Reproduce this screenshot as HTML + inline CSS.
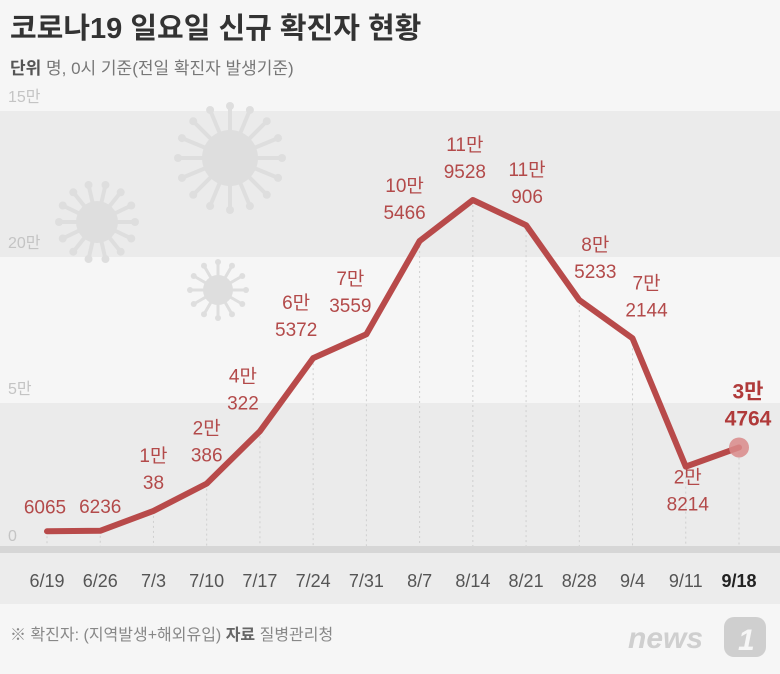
<!DOCTYPE html>
<html><head><meta charset="utf-8"><style>
body{margin:0;background:#f6f6f6;}
svg text{font-family:"Liberation Sans","Noto Sans CJK KR",sans-serif;}
</style></head><body>
<svg width="780" height="669" viewBox="0 0 780 669">
<rect x="0" y="0" width="780" height="669" fill="#f6f6f6"/>
<text x="10" y="38" font-size="29" font-weight="bold" fill="#333">코로나19 일요일 신규 확진자 현황</text>
<text x="10" y="74" font-size="17" fill="#777"><tspan font-weight="bold" fill="#555">단위</tspan> 명, 0시 기준(전일 확진자 발생기준)</text>
<g id="bands"></g>
<g id="viruses" fill="#dedede" stroke="#dedede"></g>
<g id="grid"></g>
<rect x="0" y="546" width="780" height="7" fill="#d6d6d6"/>
<rect x="0" y="553" width="780" height="51" fill="#ececec"/>
<g id="plot"></g>
<text x="10" y="640" font-size="16" fill="#888">※ 확진자: (지역발생+해외유입) <tspan font-weight="bold" fill="#666">자료</tspan> 질병관리청</text>
<text x="628" y="648" font-size="30" font-weight="bold" font-style="italic" fill="#cfcfcf">news</text>
<rect x="724" y="617" width="42" height="40" rx="10" fill="#cfcfcf"/>
<text x="738" y="650" font-size="30" font-weight="bold" font-style="italic" fill="#f6f6f6">1</text>
</svg>
<script>
const categories=["6/19","6/26","7/3","7/10","7/17","7/24","7/31","8/7","8/14","8/21","8/28","9/4","9/11","9/18"];
const values=[6065,6236,13038,22386,40322,65372,73559,105466,119528,110906,85233,72144,28214,34764];
const labelTop=["","","1만","2만","4만","6만","7만","10만","11만","11만","8만","7만","2만","3만"];
const labelBottom=["6065","6236","38","386","322","5372","3559","5466","9528","906","5233","2144","8214","4764"];
const yTicks=[0,50000,100000,150000];
const yTickLabels=["0","5만","20만","15만"];
const NS="http://www.w3.org/2000/svg";
function x(i){return 47+i*(739-47)/13;}
function y(v){return 549-v*146/50000;}
function mk(tag,attrs,parent){const e=document.createElementNS(NS,tag);for(const k in attrs)e.setAttribute(k,attrs[k]);parent.appendChild(e);return e;}
const bands=document.getElementById('bands');
[[0,50000],[100000,150000]].forEach((b,k)=>{
 const r=mk('rect',{x:0,y:y(b[1]),width:780,height:y(b[0])-y(b[1]),fill:'#ebebeb'},bands);
 
 
});
const grid=document.getElementById('grid');
yTicks.forEach((t,k)=>{
 const tx=mk('text',{x:8,y:y(t)-(t===0?8:9),'font-size':16,fill:'#c4c4c4'},grid);
 tx.textContent=yTickLabels[k];
 
 
});
// viruses
const vg=document.getElementById('viruses');
[[230,158,28,52,16],[97,222,21,38,14],[218,290,15,28,12]].forEach((c,k)=>{
 const g=mk('g',{},vg);
 
 
 mk('circle',{cx:c[0],cy:c[1],r:c[2],stroke:'none'},g);
 for(let j=0;j<c[4];j++){const a=j*2*Math.PI/c[4];
  mk('line',{x1:c[0],y1:c[1],x2:c[0]+Math.cos(a)*c[3],y2:c[1]+Math.sin(a)*c[3],'stroke-width':c[2]>20?4:3},g);
  mk('circle',{cx:c[0]+Math.cos(a)*c[3],cy:c[1]+Math.sin(a)*c[3],r:c[2]>20?4:3,stroke:'none'},g);}
});
const plot=document.getElementById('plot');
categories.forEach((c,i)=>{
 const l=mk('line',{x1:x(i),y1:y(values[i]),x2:x(i),y2:546,stroke:'#cfcfcf','stroke-dasharray':'2,3','stroke-width':1},plot);
 
 
 const t=mk('text',{x:x(i),y:587,'font-size':18,'text-anchor':'middle',fill:i===13?'#222':'#555','font-weight':i===13?'bold':'normal'},plot);
 t.textContent=c;
 
 
});
const pts=values.map((v,i)=>x(i)+','+y(v)).join(' ');
const pl=mk('polyline',{points:pts,fill:'none',stroke:'#b84a4a','stroke-width':6,'stroke-linejoin':'round','stroke-linecap':'round'},plot);


const last=values.length-1;
const dot=mk('circle',{cx:x(last),cy:y(values[last]),r:10,fill:'#d98a8a','fill-opacity':0.85},plot);


const dxs=[-2,0,0,0,-17,-17,-16,-15,-8,1,16,14,2,9];
values.forEach((v,i)=>{
 const below=(i===12);
 const px=x(i)+dxs[i], py=y(v);
 const bold=i===last;
 const fs=bold?21:19;
 const base=below? py+44 : py-(i<2?18:22);
 const col=bold?'#b03a3a':'#b34a4a';
 const b=mk('text',{x:px,y:base,'font-size':fs,'text-anchor':'middle',fill:col,'font-weight':bold?'bold':'normal'},plot);
 b.textContent=labelBottom[i];
 
 
 if(labelTop[i]){
  const t=mk('text',{x:px,y:base-27,'font-size':fs,'text-anchor':'middle',fill:col,'font-weight':bold?'bold':'normal'},plot);
  t.textContent=labelTop[i];
  
  
 }
});
</script>
</body></html>
